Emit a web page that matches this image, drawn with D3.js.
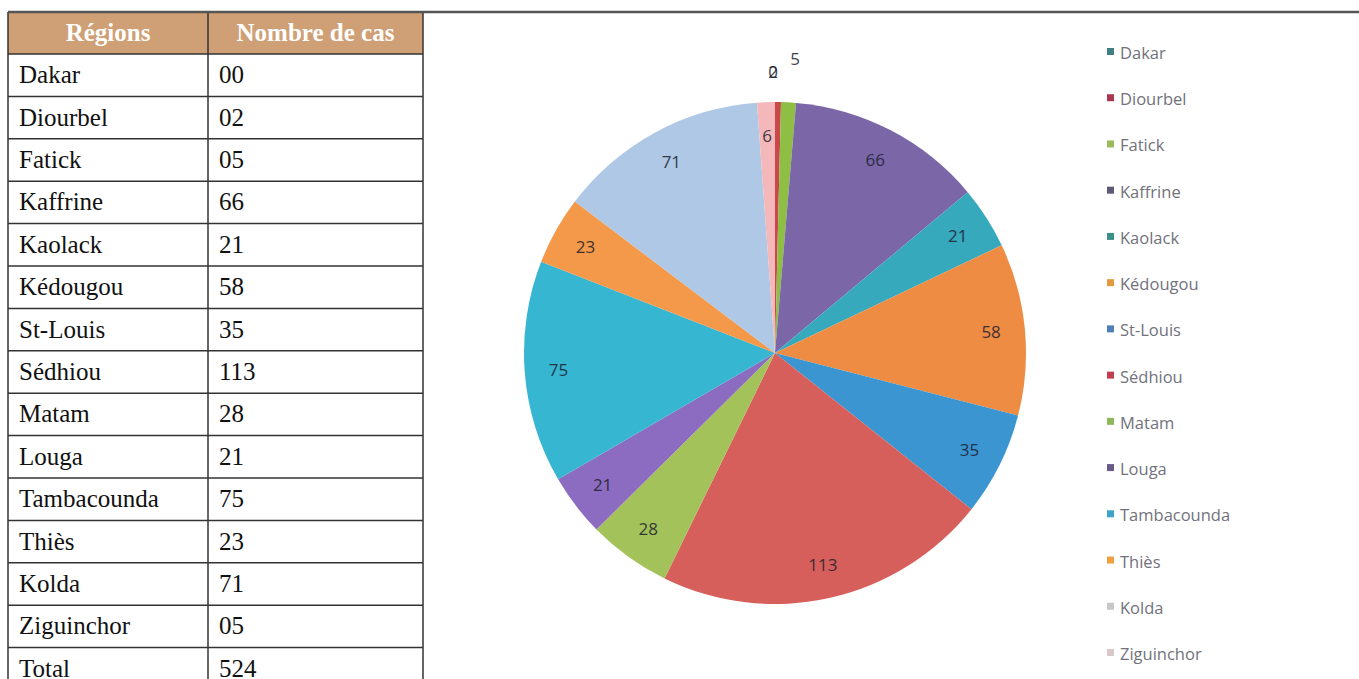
<!DOCTYPE html>
<html><head><meta charset="utf-8">
<script src="https://cdn.jsdelivr.net/npm/d3@7"></script>
<style>body{margin:0;background:#fff;}svg{display:block;}</style>
</head><body>
<svg id="c" width="1359" height="679"></svg>
<script>
// ---- data ----
const tableHeaders = ["Régions", "Nombre de cas"];
const tableRegions = ["Dakar","Diourbel","Fatick","Kaffrine","Kaolack","Kédougou","St-Louis","Sédhiou","Matam","Louga","Tambacounda","Thiès","Kolda","Ziguinchor","Total"];
const tableCounts = ["00","02","05","66","21","58","35","113","28","21","75","23","71","05","524"];

const pieRegions = ["Dakar","Diourbel","Fatick","Kaffrine","Kaolack","Kédougou","St-Louis","Sédhiou","Matam","Louga","Tambacounda","Thiès","Kolda","Ziguinchor"];
const pieValues = [0,2,5,66,21,58,35,113,28,21,75,23,71,6];
const sliceColors = ["#4a8a92","#c9484a","#8fbe45","#7b67a8","#36a9bd","#ee8c44","#3a95d0","#d65f5c","#a3c35a","#8b6cc1","#37b6d1","#f4984a","#aec8e6","#f4b8bb"];
const legendColors = ["#3f7f84","#a8374f","#9bbb59","#5f5875","#3a8f8a","#e39a3e","#4f7fb8","#c04050","#8fb85a","#6a5a8a","#3ea3c8","#f0a040","#c8c8c8","#d8c8c8"];

const svg = d3.select("#c");

// ---- table ----
const tX = [8, 208, 423];
const tTop = 12, headH = 42, rowH = 42.4;
const rowScale = d3.scaleLinear().domain([0, 1]).range([tTop + headH, tTop + headH + rowH]);
const tg = svg.append("g");
tg.append("rect").attr("x", tX[0]).attr("y", tTop).attr("width", tX[2]-tX[0]).attr("height", headH).attr("fill", "#cf9f76");
tableHeaders.forEach((h, i) => {
  tg.append("text").attr("x", (tX[i]+tX[i+1])/2).attr("y", tTop + headH/2 + 8)
    .attr("text-anchor","middle").attr("font-family","Liberation Serif, serif").attr("font-weight","bold")
    .attr("font-size", 25).attr("fill","#fff").text(h);
});
tableRegions.forEach((r, i) => {
  const y0 = rowScale(i);
  tg.append("text").attr("x", tX[0]+11).attr("y", y0 + rowH/2 + 8)
    .attr("font-family","Liberation Serif, serif").attr("font-size", 25).attr("fill","#111").text(r);
  tg.append("text").attr("x", tX[1]+11).attr("y", y0 + rowH/2 + 8)
    .attr("font-family","Liberation Serif, serif").attr("font-size", 25).attr("fill","#111").text(tableCounts[i]);
});
const lineC = "#333";
for (let i = 0; i <= tableRegions.length; i++) {
  tg.append("line").attr("x1", tX[0]).attr("x2", tX[2]).attr("y1", rowScale(i)).attr("y2", rowScale(i))
    .attr("stroke", lineC).attr("stroke-width", 1.5);
}
tX.forEach(x => tg.append("line").attr("x1", x).attr("x2", x).attr("y1", tTop).attr("y2", 679)
  .attr("stroke", lineC).attr("stroke-width", 1.5));
// top rule across page
svg.append("line").attr("x1", tX[0]).attr("x2", 1359).attr("y1", tTop).attr("y2", tTop)
  .attr("stroke", "#555").attr("stroke-width", 2.5);

// ---- pie ----
const cx = 775, cy = 353, R = 251;
const pie = d3.pie().sort(null).value(d => d);
const arcs = pie(pieValues);
const arc = d3.arc().innerRadius(0).outerRadius(R);
const labelArc = d3.arc().innerRadius(R*0.865).outerRadius(R*0.865);
const outArc = d3.arc().innerRadius(R*1.12).outerRadius(R*1.12);
const pg = svg.append("g").attr("transform", `translate(${cx},${cy})`);
pg.selectAll("path").data(arcs).join("path").attr("d", arc)
  .attr("fill", (d,i) => sliceColors[i]).attr("stroke", "none");
const outsideNudge = [[0,0],[0,0],[5,-13]];
pg.selectAll("text.lbl").data(arcs).join("text").attr("class","lbl")
  .attr("transform", (d,i) => {
    const small = (d.endAngle - d.startAngle) < 0.07 && i < 3;
    let p = small ? outArc.centroid(d) : labelArc.centroid(d);
    if (small) {
      const base = (i === 2) ? p[0] : -2;
      p = [base + outsideNudge[i][0], p[1] + outsideNudge[i][1]];
    }
    return `translate(${p[0]},${p[1]})`;
  })
  .attr("text-anchor","middle").attr("dy","0.35em")
  .attr("font-family","Open Sans, DejaVu Sans, sans-serif").attr("font-size", 17)
  .attr("fill", "#1e2230").attr("opacity", 0.85)
  .text((d,i) => pieValues[i]);

// ---- legend ----
const legScale = d3.scalePoint().domain(pieRegions).range([53, 654]);
const lg = svg.append("g");
pieRegions.forEach((r, i) => {
  const y = legScale(r);
  lg.append("rect").attr("x", 1107).attr("y", y - 5).attr("width", 7).attr("height", 7).attr("fill", legendColors[i]);
  lg.append("text").attr("x", 1120).attr("y", y + 6).attr("font-family","Open Sans, DejaVu Sans, sans-serif")
    .attr("font-size", 16.5).attr("fill", "#72727c").text(r);
});
</script>
</body></html>
